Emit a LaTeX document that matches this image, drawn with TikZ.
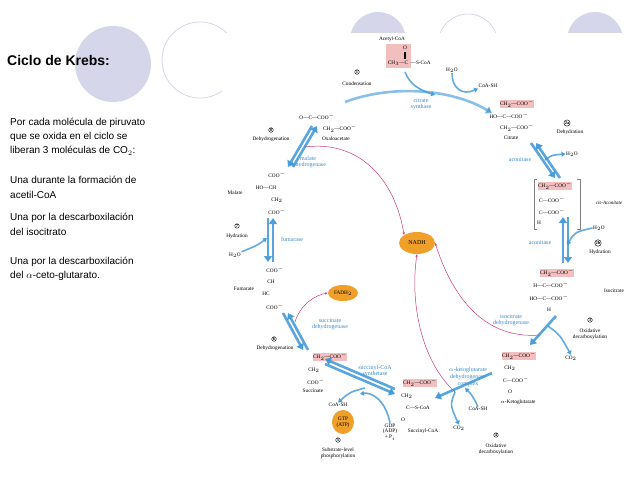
\documentclass[tikz,border=0pt]{standalone}
\usepackage{fontspec}
\setmainfont{Liberation Serif}
\newfontfamily\arialf{Liberation Sans}
\usetikzlibrary{arrows.meta,shapes.geometric}
\definecolor{lav}{RGB}{214,214,234}
\definecolor{enz}{RGB}{60,140,200}
\definecolor{flowc}{RGB}{60,150,215}
\definecolor{pinkb}{RGB}{242,190,190}
\definecolor{orng}{RGB}{240,160,40}
\definecolor{mag}{RGB}{200,60,130}
\begin{document}
\begin{tikzpicture}[x=1pt,y=-1pt,
  t/.style={font=\fontsize{5.3}{5.9}\selectfont,inner sep=0.5pt,align=center},
  pk/.style={t,fill=pinkb},
  en/.style={t,text=enz,font=\fontsize{6}{6.6}\selectfont},
  num/.style={t,draw,circle,inner sep=0.3pt,font=\fontsize{4.5}{4.5}\selectfont\bfseries},
  flow/.style={draw=flowc,line width=2.6pt,-{Triangle[length=6pt,width=8pt]},opacity=0.85},
  side/.style={draw=flowc,line width=1.6pt,-{Triangle[length=4pt,width=5pt]},opacity=0.8},
  mg/.style={draw=mag,line width=0.5pt,-{Stealth[length=3pt]}},
  lt/.style={anchor=west,font=\arialf\fontsize{10}{12}\selectfont,inner sep=0pt}]
\useasboundingbox (0,0) rectangle (638,479);
\fill[white] (0,0) rectangle (638,479);
% decorations
\fill[lav] (113,64) circle (38);
\draw[lav,line width=0.8pt] (200,60) circle (38);
\fill[lav] (378,40) circle (28);
\draw[lav,line width=0.8pt] (468,44) circle (30);
\fill[lav] (595,40) circle (28);
\fill[white] (222,33) rectangle (638,479);
% left text
\node[lt,font=\arialf\bfseries\fontsize{14}{16}\selectfont] (title) at (7,60) {Ciclo de Krebs:};
\node[lt] (l1) at (10,123) {Por cada molécula de piruvato};
\node[lt] (l2) at (10,137) {que se oxida en el ciclo se};
\node[lt] (l3) at (10,151) {liberan 3 moléculas de CO$_2$:};
\node[lt] (l4) at (10,180) {Una durante la formación de};
\node[lt] (l5) at (10,195) {acetil-CoA};
\node[lt] (l6) at (10,218) {Una por la descarboxilación};
\node[lt] (l7) at (10,232) {del isocitrato};
\node[lt] (l8) at (10,262) {Una por la descarboxilación};
\node[lt] (l9) at (10,276) {del $\alpha$-ceto-glutarato.};
% acetyl-CoA
\node[t] (acl) at (392,39) {Acetyl-CoA};
\fill[pinkb] (386,44) rectangle (411,68);
\node[t] (ac1) at (398,63) {CH$_3$---C};
\node[t] (aco) at (405,48) {O};
\draw[line width=0.3pt] (404.4,51.5)--(404.4,58.5) (405.6,51.5)--(405.6,58.5);
\node[t,anchor=west] (ac2) at (410,63) {---S-CoA};
\node[num] (n1) at (357,72) {1};
\node[t] (c1) at (357,84) {Condensation};
\node[t] (h2o1) at (452,70) {H$_2$O};
\node[t] (coash1) at (488,86) {CoA-SH};
\node[en] (cs) at (421,104) {citrate\\synthase};
% citrate
\node[pk] (ci1) at (517,104) {CH$_2$---COO$^-$};
\node[t] (ci2) at (509,116) {HO---C---COO$^-$};
\node[t] (ci3) at (517,128) {CH$_2$---COO$^-$};
\node[t] (cil) at (511,138) {Citrate};
\node[num] (n2a) at (567,123) {2a};
\node[t] (dh2a) at (570,132) {Dehydration};
\node[en] (aco1) at (520,160) {aconitase};
\node[t] (h2o2) at (572,154) {H$_2$O};
% cis-aconitate
\node[pk] (ca1) at (555,186) {CH$_2$---COO$^-$};
\node[t] (ca2) at (552,200) {C---COO$^-$};
\node[t] (ca3) at (552,212) {C---COO$^-$};
\node[t] (ca4) at (539,223) {H};
\draw[gray,line width=0.4pt] (537,179)--(534,179)--(534,229)--(537,229) (577,179)--(580,179)--(580,229)--(577,229);
\node[t,font=\fontsize{5}{5}\selectfont\itshape] (cal) at (609,203) {cis-Aconitate};
\node[t] (h2o3) at (599,228) {H$_2$O};
\node[num] (n2b) at (598,243) {2b};
\node[t] (hy2b) at (600,252) {Hydration};
\node[en] (aco2) at (540,243) {aconitase};
% isocitrate
\node[pk] (ic1) at (557,273) {CH$_2$---COO$^-$};
\node[t] (ic2) at (551,285) {H---C---COO$^-$};
\node[t] (ic3) at (549,298) {HO---C---COO$^-$};
\node[t] (ic4) at (549,310) {H};
\node[t] (icl) at (614,291) {Isocitrate};
\node[en] (idh) at (511,320) {isocitrate\\dehydrogenase};
\node[num] (n3) at (590,320) {3};
\node[t] (od3) at (590,334) {Oxidative\\decarboxylation};
\node[t] (co2a) at (571,358) {CO$_2$};
% alpha-KG
\node[pk] (kg1) at (519,356) {CH$_2$---COO$^-$};
\node[t] (kg2) at (510,368) {CH$_2$};
\node[t] (kg3) at (516,380) {C---COO$^-$};
\node[t] (kg4) at (510,392) {O};
\node[t] (kgl) at (518,402) {$\alpha$-Ketoglutarate};
\node[en] (kgdh) at (468,377) {$\alpha$-ketoglutarate\\dehydrogenase\\complex};
\node[t] (coash2) at (478,409) {CoA-SH};
\node[t] (co2b) at (459,428) {CO$_2$};
\node[num] (n4) at (496,435) {4};
\node[t] (od4) at (496,449) {Oxidative\\decarboxylation};
% succinyl-CoA
\node[pk] (sc1) at (420,383) {CH$_2$---COO$^-$};
\node[t] (sc2) at (407,396) {CH$_2$};
\node[t] (sc3) at (418,408) {C---S-CoA};
\node[t] (sc4) at (403,420) {O};
\node[t] (scl) at (423,431) {Succinyl-CoA};
\node[t] (gdp) at (390,432) {GDP\\(ADP)\\+ P$_i$};
\node[ellipse,fill=orng,inner sep=0.5pt,minimum width=22pt,minimum height=24pt,t] (gtp) at (343,422) {GTP\\(ATP)};
\node[num] (n5) at (338,440) {5};
\node[t] (sl) at (338,453) {Substrate-level\\phosphorylation};
\node[t] (coash3) at (338,405) {CoA-SH};
\node[en] (scs) at (375,371) {succinyl-CoA\\synthetase};
% succinate
\node[pk] (su1) at (330,357) {CH$_2$---COO$^-$};
\node[t] (su2) at (314,370) {CH$_2$};
\node[t] (su3) at (316,382) {COO$^-$};
\node[t] (sul) at (313,391) {Succinate};
\node[num] (n6) at (274,339) {6};
\node[t] (dh6) at (275,348) {Dehydrogenation};
\node[en] (sdh) at (330,324) {succinate\\dehydrogenase};
\node[ellipse,fill=orng,inner sep=0.5pt,minimum width=30pt,minimum height=16pt,t] (fadh) at (343,293) {FADH$_2$};
% fumarate
\node[t] (fu1) at (275,270) {COO$^-$};
\node[t] (fu2) at (271,282) {CH};
\node[t] (fu3) at (266,294) {HC};
\node[t] (fu4) at (275,307) {COO$^-$};
\node[t] (ful) at (244,289) {Fumarate};
\node[num] (n7) at (237,226) {7};
\node[t] (hy7) at (237,236) {Hydration};
\node[en] (fum) at (292,239) {fumarase};
\node[t] (h2o4) at (235,255) {H$_2$O};
% malate
\node[t] (ma1) at (277,175) {COO$^-$};
\node[t] (ma2) at (266,188) {HO---CH};
\node[t] (ma3) at (277,200) {CH$_2$};
\node[t] (ma4) at (277,212) {COO$^-$};
\node[t] (mal) at (235,193) {Malate};
\node[en] (mdh) at (308,162) {malate\\dehydrogenase};
\node[num] (n8) at (271,130) {8};
\node[t] (dh8) at (271,139) {Dehydrogenation};
% oxaloacetate
\node[t] (oa1) at (317,117) {O---C---COO$^-$};
\node[t] (oa2) at (340,129) {CH$_2$---COO$^-$};
\node[t] (oal) at (336,139) {Oxaloacetate};
\node[ellipse,fill=orng,inner sep=0.5pt,minimum width=36pt,minimum height=22pt,t,font=\fontsize{6}{6}\selectfont] (nadh) at (417,243) {NADH};
% coordinates for flows
\coordinate (f1a) at (345,102); \coordinate (f1b) at (492,113);
\coordinate (f2a) at (533,143); \coordinate (f2b) at (557,178);
\coordinate (f3a) at (565,217); \coordinate (f3b) at (565,263);
\coordinate (f4a) at (556,316); \coordinate (f4b) at (530,345);
\coordinate (f5a) at (492,373); \coordinate (f5b) at (435,398);
\coordinate (f6a) at (395,392); \coordinate (f6b) at (325,362);
\coordinate (f7a) at (305,350); \coordinate (f7b) at (285,313);
\coordinate (f8a) at (270,218); \coordinate (f8b) at (270,262);
\coordinate (f9a) at (290,167); \coordinate (f9b) at (314,126);
% main flows
\draw[flow,draw opacity=0.6] (f1a) .. controls (390,85) and (450,88) .. (f1b);
\draw[side] (405,72) .. controls (410,85) and (420,90) .. (435,95);
\draw[side] (h2o1.south) .. controls (452,88) and (462,96) .. (coash1.south west);
\draw[flow] ([xshift=3pt]f2b) -- ([xshift=3pt]f2a);
\draw[flow] ([xshift=-2pt]f2a) -- ([xshift=-2pt]f2b);
\draw[side] (545,160) .. controls (552,155) .. (h2o2.west);
\draw[flow] ([xshift=-2pt]f3b) -- ([xshift=-2pt]f3a);
\draw[flow] ([xshift=3pt]f3a) -- ([xshift=3pt]f3b);
\draw[side] (h2o3.west) .. controls (575,232) .. (567,245);
\draw[flow] (f4a) -- (f4b);
\draw[side] (548,326) .. controls (560,335) .. (co2a.north);
\draw[flow] (f5a) -- (f5b);
\draw[side] (coash2.north) .. controls (472,395) .. (465,388);
\draw[side] (455,392) .. controls (450,405) .. (co2b.north);
\draw[flow] ([yshift=3pt]f6a) -- ([yshift=3pt]f6b);
\draw[flow] ([yshift=-2pt]f6b) -- ([yshift=-2pt]f6a);
\draw[side] (gdp.north) .. controls (385,398) and (370,392) .. (360,394);
\draw[side] (365,388) .. controls (350,392) .. (coash3.north);
\draw[flow] ([xshift=3pt]f7a) -- ([xshift=3pt]f7b);
\draw[flow] ([xshift=-2pt]f7b) -- ([xshift=-2pt]f7a);
\draw[flow] ([xshift=-2pt]f8a) -- ([xshift=-2pt]f8b);
\draw[flow] ([xshift=3pt]f8b) -- ([xshift=3pt]f8a);
\draw[side] (h2o4.north east) .. controls (258,245) .. (267,238);
\draw[flow] ([xshift=3pt]f9a) -- ([xshift=3pt]f9b);
\draw[flow] ([xshift=-2pt]f9b) -- ([xshift=-2pt]f9a);
% electron carriers
\draw[mg] (305,147) .. controls (360,140) and (395,180) .. (nadh.north west);
\draw[mg] (540,335) .. controls (480,340) and (450,290) .. (nadh.east);
\draw[mg] (455,392) .. controls (420,360) and (410,300) .. (nadh.south);
\draw[mg] (295,322) .. controls (300,305) and (315,295) .. (fadh.west);
\end{tikzpicture}
\end{document}
